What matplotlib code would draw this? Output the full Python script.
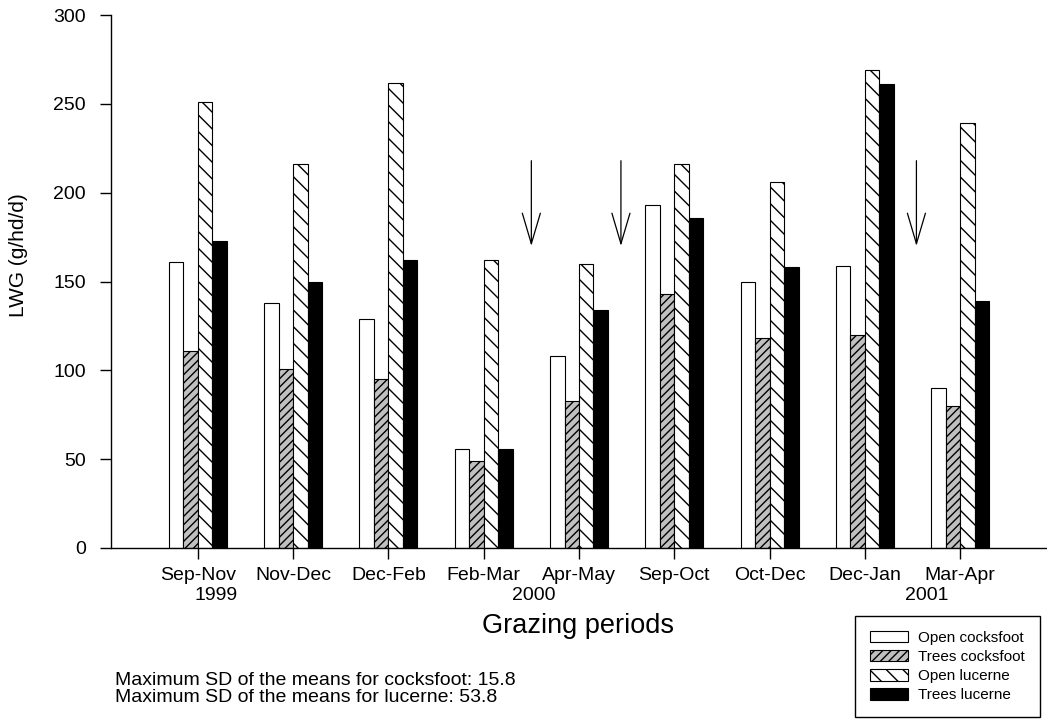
import numpy as np
import matplotlib.pyplot as plt
from matplotlib.patches import Patch, FancyArrowPatch
from matplotlib.transforms import blended_transform_factory

plt.rcParams['font.family'] = ['Liberation Sans', 'DejaVu Sans']
plt.rcParams['hatch.linewidth'] = 1.0

# LWG (g/hd/d) per grazing period
periods = ['Sep-Nov', 'Nov-Dec', 'Dec-Feb', 'Feb-Mar', 'Apr-May',
           'Sep-Oct', 'Oct-Dec', 'Dec-Jan', 'Mar-Apr']
open_cocksfoot = [161, 138, 129, 56, 108, 193, 150, 159, 90]
trees_cocksfoot = [111, 101, 95, 49, 83, 143, 118, 120, 80]
open_lucerne = [251, 216, 262, 162, 160, 216, 206, 269, 239]
trees_lucerne = [173, 150, 162, 56, 134, 186, 158, 261, 139]

years = ['1999', '2000', '2001']
year_pos = [0.19, 3.53, 7.65]

# arrows between periods (x position, start, end)
arrow_x = [3.5, 4.44, 7.54]
arrow_top = 218
arrow_tip = 170

fig = plt.figure(figsize=(10.47, 7.19), dpi=100)
ax = fig.add_axes([111 / 1047, 1 - 548 / 719, 936 / 1047, 533 / 719])

x = np.arange(len(periods))
w = 0.152
ax.bar(x - 1.5 * w, open_cocksfoot, w, color='white', edgecolor='black', linewidth=0.8)
ax.bar(x - 0.5 * w, trees_cocksfoot, w, color='#c0c0c0', edgecolor='black',
       linewidth=0.8, hatch='////')
ax.bar(x + 0.5 * w, open_lucerne, w, color='white', edgecolor='black',
       linewidth=0.8, hatch='\\\\')
ax.bar(x + 1.5 * w, trees_lucerne, w, color='black', edgecolor='black', linewidth=0.8)

for xa in arrow_x:
    arr = FancyArrowPatch((xa, arrow_top), (xa, arrow_tip),
                          arrowstyle='->,head_length=22,head_width=6.5',
                          mutation_scale=1, color='black', linewidth=0.9,
                          shrinkA=0, shrinkB=0)
    ax.add_patch(arr)

ax.set_xlim(-0.91, 8.91)
ax.set_ylim(0, 300)
ax.set_yticks([0, 50, 100, 150, 200, 250, 300])
ax.set_xticks(x)
ax.set_xticklabels(periods)
ax.tick_params(axis='both', direction='out', length=8, width=1, labelsize=14)
ax.tick_params(axis='y', pad=10)
ax.tick_params(axis='x', pad=5.5)
ax.spines['top'].set_visible(False)
ax.spines['right'].set_visible(False)
ax.spines['left'].set_linewidth(1)
ax.spines['bottom'].set_linewidth(1)

trans = blended_transform_factory(ax.transData, ax.transAxes)
for yr, xp in zip(years, year_pos):
    ax.text(xp, -0.09, yr, transform=trans, ha='center', va='center', fontsize=14)

ax.set_ylabel('LWG (g/hd/d)', fontsize=15)
ax.yaxis.set_label_coords(-0.089, 0.55)

fig.text(578 / 1047, 1 - 633 / 719, 'Grazing periods', ha='center', va='baseline',
         fontsize=19.5)

fig.text(115 / 1047, 1 - 685 / 719, 'Maximum SD of the means for cocksfoot: 15.8',
         ha='left', va='baseline', fontsize=14)
fig.text(115 / 1047, 1 - 701.5 / 719, 'Maximum SD of the means for lucerne: 53.8',
         ha='left', va='baseline', fontsize=14)

handles = [Patch(facecolor='white', edgecolor='black', linewidth=0.8),
           Patch(facecolor='#c0c0c0', edgecolor='black', linewidth=0.8, hatch='////'),
           Patch(facecolor='white', edgecolor='black', linewidth=0.8, hatch='\\\\'),
           Patch(facecolor='black', edgecolor='black', linewidth=0.8)]
labels = ['Open cocksfoot', 'Trees cocksfoot', 'Open lucerne', 'Trees lucerne']
leg = fig.legend(handles, labels, loc='upper left',
                 bbox_to_anchor=(855 / 1047, 1 - 616 / 719), fontsize=11,
                 frameon=True, fancybox=False, edgecolor='black', framealpha=1,
                 handlelength=2.5, handleheight=0.8, handletextpad=0.7,
                 labelspacing=0.33, borderpad=0.95, borderaxespad=0)
leg.get_frame().set_linewidth(1)

fig.savefig('out.png', dpi=100)
